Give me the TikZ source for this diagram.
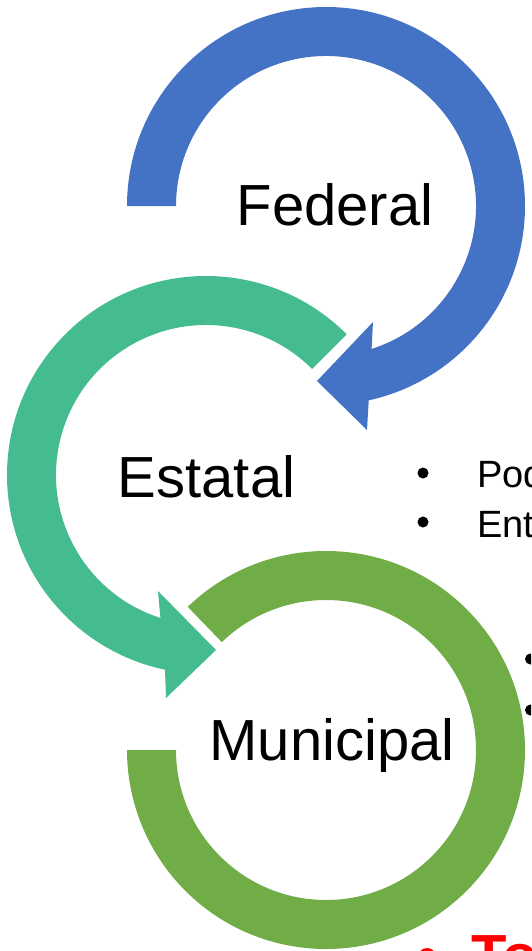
\documentclass[tikz,border=0pt]{standalone}
\usepackage{fontspec}
\setmainfont{Liberation Sans}
\usetikzlibrary{calc}
\definecolor{fedblue}{RGB}{68,114,196}
\definecolor{estteal}{RGB}{69,188,143}
\definecolor{mungreen}{RGB}{112,173,71}
\definecolor{redtxt}{RGB}{255,0,0}
\begin{document}
\begin{tikzpicture}[x=1pt,y=1pt,
  title/.style={inner sep=0pt,anchor=base,font=\fontsize{58}{70}\selectfont},
  btext/.style={inner sep=0pt,anchor=base west,font=\fontsize{38}{46}\selectfont},
  bdot/.style={fill=black,draw=none}]
\useasboundingbox (0,0) rectangle (531,-951);
\clip (0,0) rectangle (531,-951);
% bullets (partly hidden)
\fill[bdot] (423,-473) circle[radius=5.5pt];
\fill[bdot] (423,-522) circle[radius=5.5pt];
\node[btext] (pod) at (477,-487) {Pod};
\node[btext] (ent) at (477,-537) {Ent};
\fill[bdot] (530.5,-659) circle[radius=5.5pt];
\fill[bdot] (530.5,-710) circle[radius=5.5pt];
% red text at bottom
\fill[redtxt] (427,-957) circle[radius=9pt];
\node[inner sep=0pt,anchor=base west,text=redtxt,font=\fontsize{58}{70}\selectfont\bfseries] (todo) at (471,-975) {To};
% Federal arrow (blue)
\fill[fedblue] (127,-206) arc[start angle=180,end angle=-77.6,radius=199pt]
  -- (367,-430) -- (317,-381) -- (373,-322)
  -- ($(326,-206)+(-72.3:150pt)$) arc[start angle=-72.3,end angle=180,radius=150pt] -- cycle;
% Estatal arrow (teal)
\fill[estteal] ($(206,-475)+(45:199pt)$) arc[start angle=45,end angle=258.1,radius=199pt]
  -- (166,-698) -- (216,-650) -- (158,-591)
  -- ($(206,-475)+(252.3:150pt)$) arc[start angle=252.3,end angle=45,radius=150pt] -- cycle;
% Municipal ring (green)
\fill[mungreen] ($(326,-750)+(134:199pt)$) arc[start angle=134,end angle=-180,radius=199pt]
  -- (176,-750) arc[start angle=-180,end angle=134,radius=150pt] -- cycle;
% titles
\node[title] (federal) at (335,-225) {Federal};
\node[title] (estatal) at (206.5,-497) {Estatal};
\node[title] (municipal) at (332,-760) {Municipal};
\end{tikzpicture}
\end{document}
